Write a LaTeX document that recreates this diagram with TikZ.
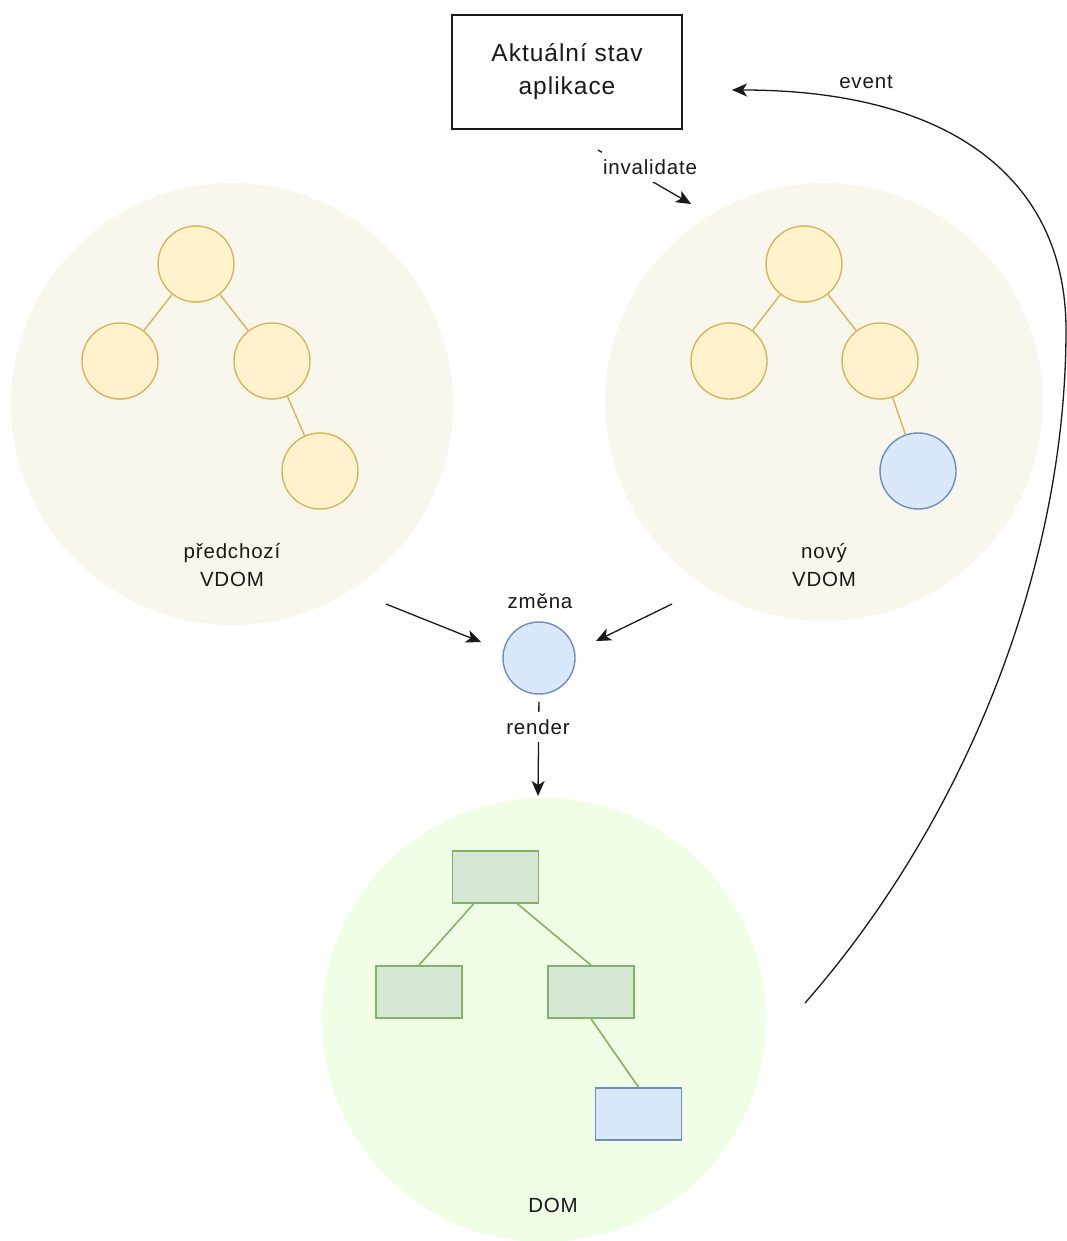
\documentclass[tikz,border=0pt]{standalone}
\usepackage{fontspec}
\setmainfont{Liberation Sans}
\newfontfamily\labelfont[LetterSpace=4]{Liberation Sans}
\usetikzlibrary{arrows.meta,calc}

\definecolor{zonefill}{HTML}{F8F6ED}
\definecolor{domfill}{HTML}{F1FEE6}
\definecolor{yfill}{HTML}{FFF2CC}
\definecolor{ystroke}{HTML}{D6B656}
\definecolor{bfill}{HTML}{DAE8FC}
\definecolor{bstroke}{HTML}{6C8EBF}
\definecolor{gfill}{HTML}{D5E8D4}
\definecolor{gstroke}{HTML}{82B366}

\tikzset{
  zone/.style={circle, fill=zonefill, draw=none, inner sep=0pt},
  treenode/.style={circle, draw=ystroke, fill=yfill, line width=1.4pt, minimum size=76pt, inner sep=0pt},
  newnode/.style={circle, draw=bstroke, fill=bfill, line width=1.4pt, minimum size=76pt, inner sep=0pt},
  domrect/.style={rectangle, draw=gstroke, fill=gfill, line width=1.6pt, minimum width=86pt, minimum height=52pt, inner sep=0pt},
  newrect/.style={domrect, draw=bstroke, fill=bfill},
  ylink/.style={draw=ystroke, line width=1.4pt},
  glink/.style={draw=gstroke, line width=1.6pt},
  txt/.style={font=\labelfont\fontsize{20.5}{28}\selectfont, align=center, inner sep=0pt, text=black!90},
  edgelabel/.style={txt, fill=white, minimum height=30pt, inner xsep=1pt},
  flow/.style={draw=black!90, line width=1.3pt, -{Stealth[length=15pt, width=13pt, inset=4pt]}},
}

\begin{document}
\begin{tikzpicture}[x=1pt, y=-1pt]
\useasboundingbox (0,0) rectangle (1067,1241);

% background zones
\node[zone, minimum size=442pt] (prevzone) at (232,404) {};
\node[zone, minimum size=438pt] (newzone) at (824,402) {};
\node[zone, fill=domfill, minimum size=444pt] (domzone) at (544,1020) {};

% application state
\node[rectangle, draw=black!90, line width=1.5pt, minimum width=230pt, minimum height=114pt,
      font=\labelfont\fontsize{24.5}{33}\selectfont, align=center, text=black!90] (state) at (567,72)
      {Aktuální stav\\aplikace};

% previous virtual DOM
\node[treenode] (p1) at (196,264) {};
\node[treenode] (p2) at (120,361) {};
\node[treenode] (p3) at (272,361) {};
\node[treenode] (p4) at (320,471) {};
\draw[ylink] (p1) -- (p2);
\draw[ylink] (p1) -- (p3);
\draw[ylink] (p3) -- (p4);
\node[txt] (prevlbl) at (232,565) {předchozí\\VDOM};

% new virtual DOM
\node[treenode] (n1) at (804,264) {};
\node[treenode] (n2) at (729,361) {};
\node[treenode] (n3) at (880,361) {};
\node[newnode] (n4) at (918,471) {};
\draw[ylink] (n1) -- (n2);
\draw[ylink] (n1) -- (n3);
\draw[ylink] (n3) -- (n4);
\node[txt] (newlbl) at (824,565) {nový\\VDOM};

% diff result
\node[circle, draw=bstroke, fill=bfill, line width=1.4pt, minimum size=72pt, inner sep=0pt] (chg) at (539,658) {};
\node[txt] (chglbl) at (540,601) {změna};

% real DOM
\node[domrect] (d1) at (495.5,877) {};
\node[domrect] (d2) at (419,992) {};
\node[domrect] (d3) at (591,992) {};
\node[newrect] (d4) at (638.5,1114) {};
\draw[glink] ($(d1.south west)!0.25!(d1.south east)$) -- (d2.north);
\draw[glink] ($(d1.south west)!0.75!(d1.south east)$) -- (d3.north);
\draw[glink] (d3.south) -- (d4.north);
\node[txt] (domlbl) at (553,1205) {DOM};

% connectors
\coordinate (pa) at (386,604);
\coordinate (pb) at (481,642);
\coordinate (na) at (672,604);
\coordinate (nb) at (596,641);
\draw[flow] (pa) -- (pb);
\draw[flow] (na) -- (nb);

\coordinate (rend) at (538,796);
\draw[flow, shorten <=7pt] (chg.south) -- (rend);
\node[edgelabel] (rendlbl) at (538,727) {render};

\coordinate (invs) at (598,150);
\coordinate (inve) at (691,204);
\draw[flow] (invs) -- (inve);
\node[edgelabel] (invlbl) at (650,167) {invalidate};

\coordinate (evs) at (805,1003);
\coordinate (evm) at (1066,330);
\coordinate (eve) at (732,90);
\draw[flow] (evs) .. controls (963,823) and (1066,570) .. (evm)
                 .. controls (1066,180) and (952,90) .. (eve);
\node[txt] (evlbl) at (866,82) {event};
\end{tikzpicture}
\end{document}
